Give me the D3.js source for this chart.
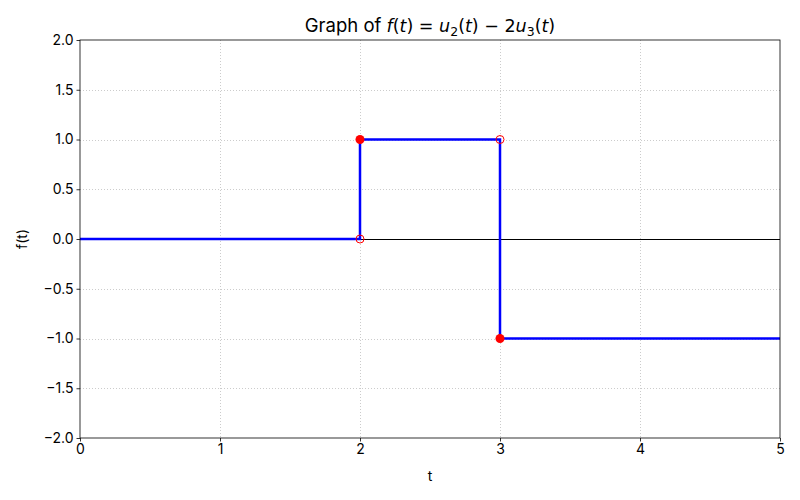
<!DOCTYPE html>
<html><head><meta charset="utf-8">
<script src="https://cdn.jsdelivr.net/npm/d3@7"></script>
<style>body{margin:0;background:#fff;} text{font-family:Inter,"DejaVu Sans",sans-serif;}</style>
</head><body><svg id="c" width="800" height="500"></svg>
<script>
const stepT = [0, 2, 2, 3, 3, 5];
const stepF = [0, 0, 1, 1, -1, -1];
const closedT = [2, 3];
const closedF = [1, -1];
const openT = [2, 3];
const openF = [0, 1];
const xTicks = [0, 1, 2, 3, 4, 5];
const yTicks = [-2, -1.5, -1, -0.5, 0, 0.5, 1, 1.5, 2];

const svg = d3.select("#c");
const L = 80, R = 780, T = 40, B = 438;
const x = d3.scaleLinear().domain([0, 5]).range([L, R]);
const y = d3.scaleLinear().domain([-2, 2]).range([B, T]);
const px = v => Math.round(v) + 0.5;

// grid
const g = svg.append("g");
g.selectAll(".gx").data(xTicks.slice(1, -1)).enter().append("line")
  .attr("x1", d => px(x(d))).attr("x2", d => px(x(d))).attr("y1", T).attr("y2", B)
  .attr("stroke", "#cccccc").attr("stroke-width", 1).attr("stroke-dasharray", "1,2");
g.selectAll(".gy").data(yTicks.slice(1, -1)).enter().append("line")
  .attr("y1", d => px(y(d))).attr("y2", d => px(y(d))).attr("x1", L).attr("x2", R)
  .attr("stroke", "#cccccc").attr("stroke-width", 1).attr("stroke-dasharray", "1,2");

// zero line
svg.append("line").attr("x1", L).attr("x2", R).attr("y1", px(y(0))).attr("y2", px(y(0)))
  .attr("stroke", "#000").attr("stroke-width", 1);

// step line
const pts = stepT.map((t, i) => [t, stepF[i]]);
svg.append("path").datum(pts)
  .attr("d", d3.line().x(d => x(d[0])).y(d => y(d[1])))
  .attr("fill", "none").attr("stroke", "#0000ff").attr("stroke-width", 2.5);

// markers
svg.selectAll(".op").data(openT.map((t, i) => [t, openF[i]])).enter().append("circle")
  .attr("cx", d => x(d[0])).attr("cy", d => y(d[1])).attr("r", 4)
  .attr("fill", "none").attr("stroke", "#ff0000").attr("stroke-width", 1);
svg.selectAll(".cl").data(closedT.map((t, i) => [t, closedF[i]])).enter().append("circle")
  .attr("cx", d => x(d[0])).attr("cy", d => y(d[1])).attr("r", 4.5)
  .attr("fill", "#ff0000");

// axes
const xa = svg.append("g").attr("transform", `translate(0,${B})`)
  .call(d3.axisBottom(x).tickValues(xTicks).tickFormat(d3.format("d")).tickSize(3.5).tickPadding(3));
const ya = svg.append("g").attr("transform", `translate(${L},0)`)
  .call(d3.axisLeft(y).tickValues(yTicks).tickFormat(d => d3.format(".1f")(d).replace("-", "\u2212")).tickSize(3.5).tickPadding(3));
[xa, ya].forEach(a => {
  a.select(".domain").remove();
  a.selectAll("text").attr("font-size", 14).attr("fill", "#000").attr("font-family", "Inter, 'DejaVu Sans', sans-serif");
  a.selectAll("line").attr("stroke", "#000").attr("stroke-width", 0.8);
});
svg.append("rect").attr("x", L).attr("y", T).attr("width", R - L).attr("height", B - T)
  .attr("fill", "none").attr("stroke", "#000").attr("stroke-width", 0.8);

// labels
svg.append("text").attr("x", (L + R) / 2).attr("y", 481).attr("text-anchor", "middle")
  .attr("font-size", 14).text("t");
svg.append("text").attr("transform", `translate(27,${(T + B) / 2}) rotate(-90)`).attr("text-anchor", "middle")
  .attr("font-size", 14).text("f(t)");

const mathFont = "'DejaVu Sans', sans-serif";
const title = svg.append("text").attr("x", (L + R) / 2).attr("y", 32).attr("text-anchor", "middle")
  .attr("font-size", 18.5);
const parts = [
  ["Graph of ", null], ["f", "i"], ["(", "m"], ["t", "i"], [") = ", "m"], ["u", "i"], ["2", "s"], ["(", "m"],
  ["t", "i"], [") \u2212 2", "m"], ["u", "i"], ["3", "s"], ["(", "m"], ["t", "i"], [")", "m"]
];
let sub = false;
parts.forEach(([s, k]) => {
  const ts = title.append("tspan").text(s);
  if (k) ts.attr("font-family", mathFont).attr("font-size", 17.5);
  if (k === "i") ts.attr("font-style", "italic");
  if (k === "s") { ts.attr("font-size", 12.5).attr("dy", 4); sub = true; }
  else if (sub) { ts.attr("dy", -4); sub = false; }
});
</script></body></html>
